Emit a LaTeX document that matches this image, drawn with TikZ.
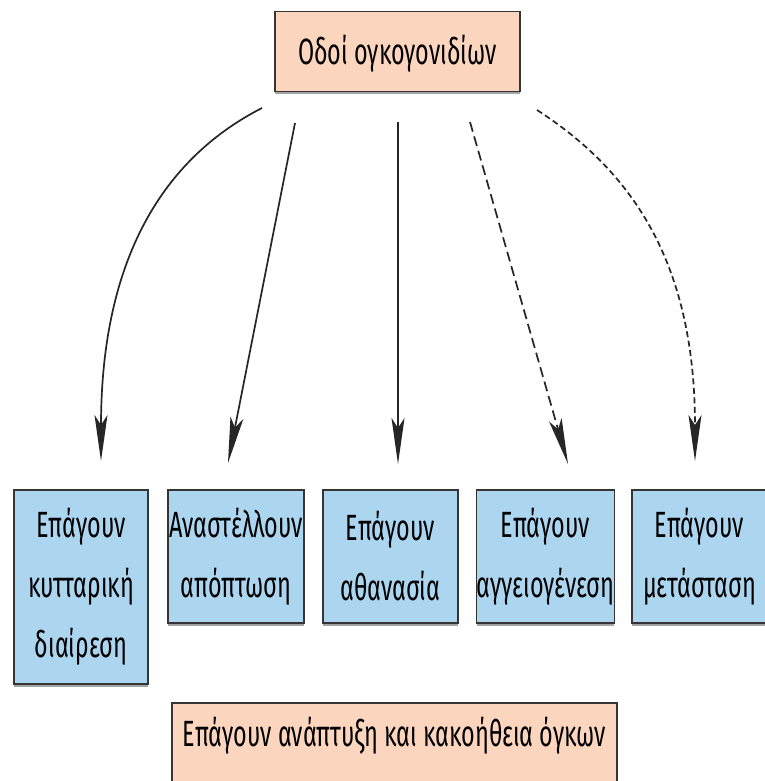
\documentclass[tikz,border=0pt]{standalone}
\usepackage{fontspec}
\setmainfont{Fira Sans}[FakeStretch=0.64]
\usetikzlibrary{arrows.meta,shadows}
\definecolor{peach}{RGB}{252,213,190}
\definecolor{skyb}{RGB}{172,213,240}
\definecolor{edge}{RGB}{55,52,52}
\begin{document}
\begin{tikzpicture}[x=1pt,y=-1pt,
  boxbase/.style={draw=edge, line width=1.8pt, inner sep=0pt, align=center,
    font=\fontsize{36.5}{60}\selectfont,
    drop shadow={shadow xshift=0pt, shadow yshift=-2.5pt, fill=black!45, opacity=0.8}},
  peachbox/.style={boxbase, fill=peach},
  bluebox/.style={boxbase, fill=skyb, minimum height=133pt},
  conn/.style={line width=1.7pt, draw=black!85, -{Stealth[length=46pt, width=13pt, inset=10pt]}},
  dashA/.style={conn, dash pattern=on 10pt off 5pt},
  dashB/.style={conn, dash pattern=on 6pt off 3.5pt}]
\useasboundingbox (0,0) rectangle (764,781);
\fill[white] (0,0) rectangle (764,781);
\node[peachbox, minimum width=245pt, minimum height=80pt, text depth=4pt, text height=30pt] (top) at (397.5,51.5) {Οδοί ογκογονιδίων};
\node[bluebox, minimum width=134pt, minimum height=194pt] (b1) at (81,587) {Επάγουν\\κυτταρική\\διαίρεση};
\node[bluebox, minimum width=136pt] (b2) at (236,556.5) {Αναστέλλουν\\απόπτωση};
\node[bluebox, minimum width=135pt] (b3) at (390.5,556.5) {Επάγουν\\αθανασία};
\node[bluebox, minimum width=135pt] (b4) at (545.5,556.5) {Επάγουν\\αγγειογένεση};
\node[bluebox, minimum width=135pt] (b5) at (699.5,556.5) {Επάγουν\\μετάσταση};
\node[peachbox, anchor=north, minimum width=445pt, inner ysep=14pt, text depth=70pt] (bot) at (394.5,702) {Επάγουν ανάπτυξη και κακοήθεια όγκων};
\coordinate (s1) at (262,108);
\coordinate (s2) at (295,123);
\coordinate (s3) at (398,122);
\coordinate (s4) at (470,122);
\coordinate (s5) at (537,110);
\coordinate (t1) at (101,461);
\coordinate (t2) at (228,463);
\coordinate (t3) at (398,464);
\coordinate (t4) at (568,464);
\coordinate (t5) at (695,461);
\draw[conn] (s1) .. controls (170,155) and (101,250) .. (t1);
\draw[conn] (s2) -- (t2);
\draw[conn] (s3) -- (t3);
\draw[dashA] (s4) -- (t4);
\draw[dashB] (s5) .. controls (630,170) and (695,260) .. (t5);
\end{tikzpicture}
\end{document}
